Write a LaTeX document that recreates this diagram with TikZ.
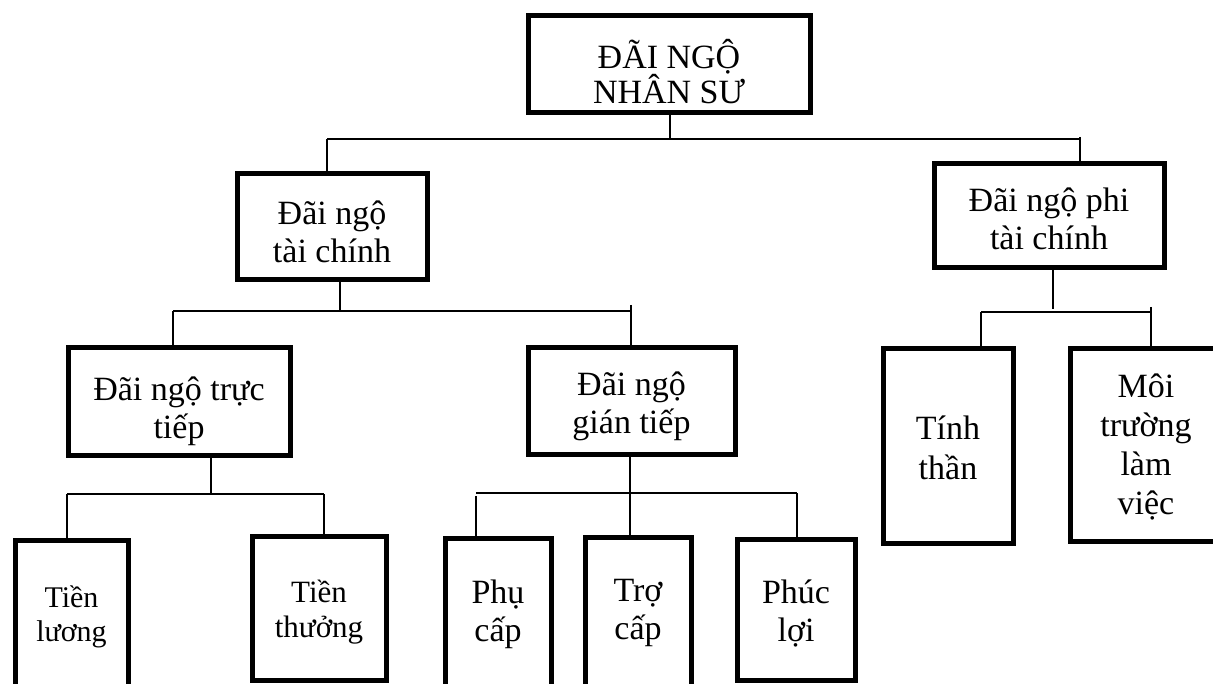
\documentclass[tikz,border=0pt]{standalone}
\usepackage{fontspec}
\setmainfont{Liberation Serif}
\begin{document}
\begin{tikzpicture}[x=1pt,y=-1pt,
  box/.style={draw, line width=5pt, inner sep=0pt},
  txt/.style={align=center, inner sep=0pt, font=\fontsize{34}{38}\selectfont},
  conn/.style={line width=2pt}]
\clip (0,0) rectangle (1213,684);
\useasboundingbox (0,0) rectangle (1213,684);
% level 0
\node[box, minimum width=282pt, minimum height=97pt,
  label={[txt, font=\fontsize{34}{35}\selectfont, yshift=-7pt]center:{ĐÃI NGỘ\\NHÂN SƯ}}] (top) at (669,64.5) {};
% level 1
\node[box, minimum width=190pt, minimum height=106pt,
  label={[txt, yshift=-5pt]center:{Đãi ngộ\\tài chính}}] (tc) at (332,227) {};
\node[box, minimum width=230pt, minimum height=104pt,
  label={[txt, yshift=-3pt]center:{Đãi ngộ phi\\tài chính}}] (ptc) at (1049,216) {};
% level 2
\node[box, minimum width=222pt, minimum height=107pt,
  label={[txt, yshift=-10pt]center:{Đãi ngộ trực\\tiếp}}] (tt) at (179,401.5) {};
\node[box, minimum width=207pt, minimum height=106pt,
  label={[txt, yshift=-5pt]center:{Đãi ngộ\\gián tiếp}}] (gt) at (631.5,401) {};
\node[box, minimum width=130pt, minimum height=194pt,
  label={[txt, font=\fontsize{34}{40}\selectfont, yshift=-2pt]center:{Tính\\thần}}] (tinh) at (948,446) {};
\node[box, minimum width=152pt, minimum height=192pt,
  label={[txt, font=\fontsize{34}{39}\selectfont, yshift=-2pt]center:{Môi\\trường\\làm\\việc}}] (moi) at (1146,445) {};
% level 3
\node[box, minimum width=113pt, minimum height=154pt,
  label={[txt, font=\fontsize{30}{34}\selectfont]center:{Tiền\\lương}}] (tl) at (71.5,617) {};
\node[box, minimum width=134pt, minimum height=144pt,
  label={[txt, font=\fontsize{31}{35}\selectfont, yshift=-4pt]center:{Tiền\\thưởng}}] (tth) at (319,608) {};
\node[box, minimum width=106pt, minimum height=152pt,
  label={[txt]center:{Phụ\\cấp}}] (pc) at (498,614) {};
\node[box, minimum width=106pt, minimum height=152pt,
  label={[txt]center:{Trợ\\cấp}}] (trc) at (638,613) {};
\node[box, minimum width=118pt, minimum height=141pt,
  label={[txt, yshift=-4pt]center:{Phúc\\lợi}}] (pl) at (796,609.5) {};
% bus coordinates
\coordinate (b1L) at (327,139);
\coordinate (b1M) at (670,139);
\coordinate (b1R) at (1080,139);
\coordinate (b2L) at (173,311);
\coordinate (b2M) at (340,311);
\coordinate (b2R) at (631,311);
\coordinate (b3L) at (67,494);
\coordinate (b3M) at (211,494);
\coordinate (b3R) at (324,494);
\coordinate (b4L) at (476,493);
\coordinate (b4M) at (630,493);
\coordinate (b4R) at (797,493);
\coordinate (b5L) at (981,312);
\coordinate (b5M) at (1053,312);
\coordinate (b5R) at (1151,312);
% level 0 -> 1
\draw[conn] (top.south -| b1M) -- (b1M);
\draw[conn] (b1L) -- (b1R);
\draw[conn] (b1L) -- (b1L |- tc.north);
\draw[conn] ([yshift=2pt]b1R) -- (b1R |- ptc.north);
% tc -> level 2
\draw[conn] (tc.south -| b2M) -- (b2M);
\draw[conn] (b2L) -- (b2R);
\draw[conn] (b2L) -- (b2L |- tt.north);
\draw[conn] ([yshift=6pt]b2R) -- (b2R |- gt.north);
% tt -> level 3
\draw[conn] (tt.south -| b3M) -- (b3M);
\draw[conn] (b3L) -- (b3R);
\draw[conn] (b3L) -- (b3L |- tl.north);
\draw[conn] (b3R) -- (b3R |- tth.north);
% gt -> level 3
\draw[conn] (gt.south -| b4M) -- (b4M |- trc.north);
\draw[conn] ([yshift=-3pt]b4L) -- ([yshift=-3pt]b4L |- pc.north);
\draw[conn] (b4L) -- (b4R);
\draw[conn] (b4R) -- (b4R |- pl.north);
% ptc -> level 2
\draw[conn] (ptc.south -| b5M) -- ([yshift=3pt]b5M);
\draw[conn] (b5L) -- (b5R);
\draw[conn] (b5L) -- (b5L |- tinh.north);
\draw[conn] ([yshift=5pt]b5R) -- (b5R |- moi.north);
\end{tikzpicture}
\end{document}
